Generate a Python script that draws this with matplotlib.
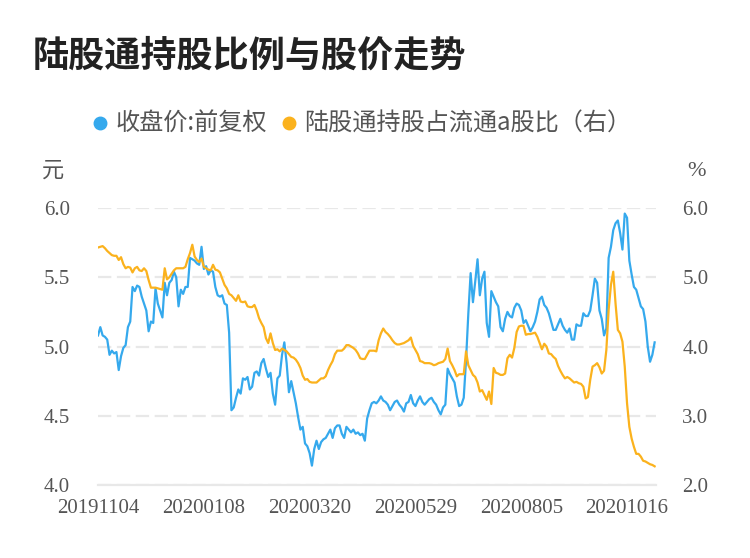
import matplotlib
matplotlib.use('Agg')
import matplotlib.pyplot as plt
from matplotlib.lines import Line2D

plt.rcParams['font.family'] = ['Noto Sans CJK SC', 'DejaVu Sans']

# closing price (front-adjusted), yuan
price = [5.08, 5.14, 5.08, 5.07, 5.05, 4.94, 4.97, 4.95, 4.96, 4.83,
         4.93, 4.99, 5.01, 5.14, 5.18, 5.43, 5.40, 5.44, 5.43, 5.36,
         5.31, 5.26, 5.11, 5.18, 5.17, 5.42, 5.31, 5.26, 5.21, 5.46,
         5.37, 5.46, 5.48, 5.54, 5.50, 5.29, 5.41, 5.38, 5.43, 5.43,
         5.64, 5.63, 5.62, 5.60, 5.59, 5.72, 5.56, 5.58, 5.52, 5.55,
         5.54, 5.43, 5.37, 5.36, 5.37, 5.31, 5.30, 5.10, 4.54, 4.56,
         4.63, 4.69, 4.66, 4.77, 4.76, 4.78, 4.69, 4.71, 4.81, 4.82,
         4.79, 4.88, 4.91, 4.84, 4.78, 4.81, 4.66, 4.58, 4.77, 4.79,
         4.94, 5.03, 4.88, 4.67, 4.75, 4.67, 4.59, 4.49, 4.40, 4.42,
         4.30, 4.28, 4.23, 4.14, 4.26, 4.32, 4.26, 4.31, 4.33, 4.34,
         4.37, 4.40, 4.34, 4.41, 4.43, 4.43, 4.37, 4.34, 4.42, 4.40,
         4.38, 4.40, 4.37, 4.38, 4.36, 4.37, 4.32, 4.48, 4.54, 4.59,
         4.60, 4.59, 4.61, 4.64, 4.61, 4.60, 4.58, 4.54, 4.57, 4.60,
         4.61, 4.58, 4.56, 4.53, 4.59, 4.60, 4.65, 4.59, 4.57, 4.61,
         4.64, 4.60, 4.58, 4.60, 4.62, 4.63, 4.60, 4.58, 4.54, 4.51,
         4.56, 4.58, 4.84, 4.80, 4.77, 4.74, 4.64, 4.57, 4.58, 4.63,
         4.90, 5.24, 5.53, 5.32, 5.47, 5.63, 5.37, 5.49, 5.54, 5.17,
         5.07, 5.40, 5.36, 5.32, 5.29, 5.14, 5.11, 5.20, 5.25, 5.22,
         5.21, 5.28, 5.31, 5.30, 5.26, 5.17, 5.19, 5.15, 5.11, 5.14,
         5.18, 5.25, 5.34, 5.36, 5.30, 5.28, 5.24, 5.18, 5.12, 5.12,
         5.16, 5.20, 5.15, 5.12, 5.10, 5.13, 5.05, 5.05, 5.16, 5.15,
         5.15, 5.24, 5.22, 5.22, 5.26, 5.37, 5.49, 5.46, 5.26, 5.20,
         5.08, 5.13, 5.64, 5.72, 5.84, 5.89, 5.91, 5.82, 5.70, 5.96,
         5.93, 5.62, 5.52, 5.43, 5.41, 5.35, 5.29, 5.27, 5.18, 5.00,
         4.89, 4.94, 5.03]

# northbound holding as % of tradable A shares
hold_pct = [5.43, 5.44, 5.45, 5.42, 5.38, 5.35, 5.32, 5.31, 5.31, 5.25,
            5.29, 5.19, 5.13, 5.15, 5.14, 5.07, 5.13, 5.15, 5.10, 5.09,
            5.13, 5.09, 4.96, 4.85, 4.85, 4.85, 4.84, 4.83, 4.82, 5.13,
            4.97, 5.00, 5.05, 5.10, 5.13, 5.13, 5.13, 5.13, 5.15, 5.26,
            5.35, 5.47, 5.30, 5.25, 5.22, 5.27, 5.15, 5.13, 5.11, 5.10,
            5.18, 5.11, 5.10, 5.07, 4.98, 4.89, 4.84, 4.76, 4.74, 4.70,
            4.66, 4.74, 4.65, 4.64, 4.65, 4.58, 4.57, 4.57, 4.60, 4.52,
            4.41, 4.34, 4.28, 4.12, 4.05, 4.19, 4.05, 3.95, 3.96, 3.93,
            3.97, 3.95, 3.93, 3.89, 3.85, 3.84, 3.81, 3.76, 3.69, 3.58,
            3.52, 3.53, 3.49, 3.48, 3.48, 3.48, 3.51, 3.54, 3.54, 3.57,
            3.66, 3.73, 3.79, 3.89, 3.94, 3.94, 3.94, 3.97, 4.02, 4.02,
            4.00, 3.98, 3.95, 3.90, 3.83, 3.82, 3.82, 3.88, 3.94, 3.94,
            3.94, 3.93, 4.09, 4.19, 4.26, 4.21, 4.18, 4.14, 4.09, 4.05,
            4.03, 4.03, 4.04, 4.05, 4.07, 4.09, 4.13, 4.01, 3.95, 3.89,
            3.79, 3.78, 3.76, 3.76, 3.76, 3.75, 3.73, 3.74, 3.76, 3.77,
            3.78, 3.82, 3.97, 3.79, 3.73, 3.66, 3.57, 3.60, 3.60, 3.60,
            3.93, 3.73, 3.66, 3.59, 3.56, 3.48, 3.35, 3.37, 3.30, 3.23,
            3.35, 3.17, 3.69, 3.62, 3.61, 3.59, 3.59, 3.61, 3.83, 3.88,
            3.84, 3.98, 4.21, 4.29, 4.30, 4.30, 4.17, 4.18, 4.18, 4.19,
            4.20, 4.14, 4.05, 3.96, 4.04, 4.00, 3.90, 3.89, 3.85, 3.82,
            3.72, 3.65, 3.59, 3.54, 3.56, 3.54, 3.51, 3.48, 3.49, 3.47,
            3.46, 3.42, 3.25, 3.27, 3.52, 3.71, 3.73, 3.76, 3.70, 3.61,
            3.65, 3.95, 4.53, 4.89, 5.08, 4.62, 4.24, 4.19, 4.07, 3.71,
            3.18, 2.84, 2.67, 2.55, 2.45, 2.45, 2.41, 2.35, 2.34, 2.32,
            2.30, 2.29, 2.27]

tick_labels = ['20191104', '20200108', '20200320', '20200529', '20200805', '20201016']
tick_step = 46  # trading days between labels

blue = '#35a9ed'
orange = '#fbb21d'
grey = '#555555'
serif = 'Liberation Serif'

fig = plt.figure(figsize=(7.5, 5.58), dpi=100)
ax = fig.add_axes([0.1307, 0.1308, 0.744, 0.4964])
ax2 = ax.twinx()

x = list(range(len(price)))
ax.plot(x, price, color=blue, lw=1.6, zorder=3)
ax2.plot(x, hold_pct, color=orange, lw=1.6, zorder=3)

ax.set_xlim(0, 242.6)
ax.set_ylim(4.0, 6.0)
ax2.set_ylim(2.0, 6.0)
ax.set_yticks([4.0, 4.5, 5.0, 5.5, 6.0])
ax2.set_yticks([2.0, 3.0, 4.0, 5.0, 6.0])
ax.set_xticks([i * tick_step for i in range(len(tick_labels))])
ax.set_xticklabels(tick_labels)

ax.yaxis.grid(True, color='#e8e8e8', lw=1.6, ls=(0, (6, 2.5)))
ax.set_axisbelow(True)

for a in (ax, ax2):
    for s in a.spines.values():
        s.set_visible(False)
ax.spines['bottom'].set_visible(True)
ax.spines['bottom'].set_color('#e8e8e8')
ax.spines['bottom'].set_linewidth(1.6)

ax.tick_params(axis='y', length=0, pad=20, labelcolor=grey)
ax2.tick_params(axis='y', length=0, pad=19, labelcolor=grey)
ax.tick_params(axis='x', length=0, pad=10, labelcolor=grey)
for lab in ax.get_xticklabels() + ax.get_yticklabels() + ax2.get_yticklabels():
    lab.set_fontfamily(serif)
    lab.set_fontsize(15)
ax.yaxis.set_major_formatter(matplotlib.ticker.FormatStrFormatter('%.1f'))
ax2.yaxis.set_major_formatter(matplotlib.ticker.FormatStrFormatter('%.1f'))

fig.text(33 / 750, 1 - 56 / 558, '陆股通持股比例与股价走势', fontsize=26,
         fontweight='bold', color='#222222', va='center', ha='left')

handles = [Line2D([], [], ls='none', marker='o', ms=9, color=blue),
           Line2D([], [], ls='none', marker='o', ms=9, color=orange)]
leg = fig.legend(handles, ['收盘价:前复权', '陆股通持股占流通a股比（右）'],
                 loc='center', bbox_to_anchor=(0.481, 1 - 124 / 558), ncol=2,
                 frameon=False, fontsize=17.4, handlelength=0.8, handletextpad=0.25,
                 columnspacing=0.5)
for t in leg.get_texts():
    t.set_color(grey)

fig.text(53 / 750, 1 - 170 / 558, '元', fontsize=16, color=grey, ha='center', va='center')
fig.text(697 / 750, 1 - 172 / 558, '%', fontsize=16, color=grey, ha='center', va='center',
         family=serif)

fig.savefig('out.png', dpi=100)
